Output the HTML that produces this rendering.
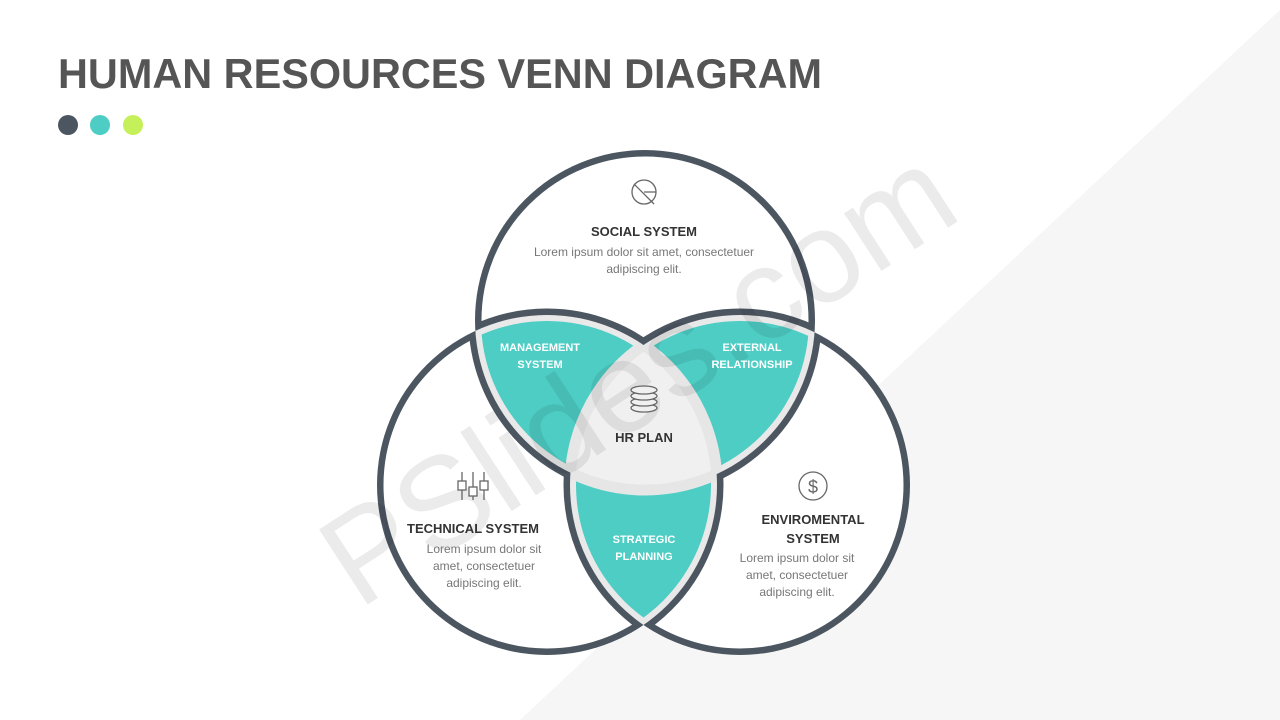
<!DOCTYPE html>
<html><head><meta charset="utf-8"><style>
html,body{margin:0;padding:0;background:#fff}
svg{display:block}
text{font-family:"Liberation Sans",sans-serif}
</style></head><body>
<svg width="1280" height="720" viewBox="0 0 1280 720" xmlns="http://www.w3.org/2000/svg">
<defs>
<clipPath id="a4"><circle cx="645" cy="320" r="170"/></clipPath>
<clipPath id="b4"><circle cx="547" cy="485" r="170"/></clipPath>
<clipPath id="c4"><circle cx="740" cy="485" r="170"/></clipPath>
<clipPath id="a10"><circle cx="645" cy="320" r="164"/></clipPath>
<clipPath id="b10"><circle cx="547" cy="485" r="164"/></clipPath>
<mask id="mA"><rect width="1280" height="720" fill="#000"/><circle cx="645" cy="320" r="170" fill="#fff"/><circle cx="547" cy="485" r="170" fill="#000"/><circle cx="740" cy="485" r="170" fill="#000"/></mask>
<mask id="mB"><rect width="1280" height="720" fill="#000"/><circle cx="547" cy="485" r="170" fill="#fff"/><circle cx="645" cy="320" r="170" fill="#000"/><circle cx="740" cy="485" r="170" fill="#000"/></mask>
<mask id="mC"><rect width="1280" height="720" fill="#000"/><circle cx="740" cy="485" r="170" fill="#fff"/><circle cx="645" cy="320" r="170" fill="#000"/><circle cx="547" cy="485" r="170" fill="#000"/></mask>
</defs>
<rect width="1280" height="720" fill="#fff"/>
<polygon points="1280,10 1280,720 520,720" fill="#f6f6f6"/>

<text x="58" y="88" font-size="42" font-weight="bold" fill="#555" textLength="764" lengthAdjust="spacingAndGlyphs">HUMAN RESOURCES VENN DIAGRAM</text>
<circle cx="68" cy="125" r="10" fill="#4c5661"/>
<circle cx="100" cy="125" r="10" fill="#4ecdc4"/>
<circle cx="133" cy="125" r="10" fill="#c5f05a"/>

<g fill="#fff">
<circle cx="645" cy="320" r="170"/>
<circle cx="547" cy="485" r="170"/>
<circle cx="740" cy="485" r="170"/>
</g>
<g fill="#e9e9e9">
<g clip-path="url(#a4)"><circle cx="547" cy="485" r="170"/><circle cx="740" cy="485" r="170"/></g>
<g clip-path="url(#b4)"><circle cx="740" cy="485" r="170"/></g>
</g>
<g fill="#4ecdc4">
<g clip-path="url(#a10)"><circle cx="547" cy="485" r="164"/><circle cx="740" cy="485" r="164"/></g>
<g clip-path="url(#b10)"><circle cx="740" cy="485" r="164"/></g>
</g>
<g clip-path="url(#a4)"><g clip-path="url(#b4)"><circle cx="740" cy="485" r="170" fill="#f0f0f0"/></g></g>
<g fill="none" stroke="#e6e6e6" stroke-width="11">
<g clip-path="url(#b4)"><g clip-path="url(#c4)"><circle cx="645" cy="320" r="170"/></g></g>
<g clip-path="url(#a4)"><g clip-path="url(#c4)"><circle cx="547" cy="485" r="170"/></g></g>
<g clip-path="url(#a4)"><g clip-path="url(#b4)"><circle cx="740" cy="485" r="170"/></g></g>
</g>
<g fill="none" stroke="#4c5661" stroke-width="13">
<g mask="url(#mA)"><circle cx="645" cy="320" r="170"/><circle cx="547" cy="485" r="170"/><circle cx="740" cy="485" r="170"/></g>
<g mask="url(#mB)"><circle cx="645" cy="320" r="170"/><circle cx="547" cy="485" r="170"/><circle cx="740" cy="485" r="170"/></g>
<g mask="url(#mC)"><circle cx="645" cy="320" r="170"/><circle cx="547" cy="485" r="170"/><circle cx="740" cy="485" r="170"/></g>
</g>

<text x="640" y="420" font-size="130" fill="#000" fill-opacity="0.08" text-anchor="middle" transform="rotate(-33 640 380)">PSlides.com</text>

<g fill="none" stroke="#666" stroke-width="1.3">
<circle cx="644" cy="192" r="12"/><path d="M644 192h12M634 184l20 20"/>
</g>
<text x="644" y="236" font-size="13" font-weight="bold" fill="#333" text-anchor="middle">SOCIAL SYSTEM</text>
<text x="644" y="256" font-size="12" fill="#777" text-anchor="middle">Lorem ipsum dolor sit amet, consectetuer</text>
<text x="644" y="273" font-size="12" fill="#777" text-anchor="middle">adipiscing elit.</text>

<g fill="none" stroke="#666" stroke-width="1.3">
<path d="M462 472v28M473 472v28M484 472v28"/>
<rect x="458" y="481" width="8" height="9" fill="#fff"/><rect x="469" y="487" width="8" height="9" fill="#fff"/><rect x="480" y="481" width="8" height="9" fill="#fff"/>
</g>
<text x="473" y="533" font-size="13" font-weight="bold" fill="#333" text-anchor="middle">TECHNICAL SYSTEM</text>
<text x="484" y="553" font-size="12" fill="#777" text-anchor="middle">Lorem ipsum dolor sit</text>
<text x="484" y="570" font-size="12" fill="#777" text-anchor="middle">amet, consectetuer</text>
<text x="484" y="587" font-size="12" fill="#777" text-anchor="middle">adipiscing elit.</text>

<circle cx="813" cy="486" r="14" fill="none" stroke="#666" stroke-width="1.3"/>
<text x="813" y="493" font-size="18" fill="#666" text-anchor="middle">$</text>
<text x="813" y="524" font-size="13" font-weight="bold" fill="#333" text-anchor="middle">ENVIROMENTAL</text>
<text x="813" y="543" font-size="13" font-weight="bold" fill="#333" text-anchor="middle">SYSTEM</text>
<text x="797" y="562" font-size="12" fill="#777" text-anchor="middle">Lorem ipsum dolor sit</text>
<text x="797" y="579" font-size="12" fill="#777" text-anchor="middle">amet, consectetuer</text>
<text x="797" y="596" font-size="12" fill="#777" text-anchor="middle">adipiscing elit.</text>

<g font-size="11" font-weight="bold" fill="#fff" text-anchor="middle">
<text x="540" y="351">MANAGEMENT</text><text x="540" y="368">SYSTEM</text>
<text x="752" y="351">EXTERNAL</text><text x="752" y="368">RELATIONSHIP</text>
<text x="644" y="543">STRATEGIC</text><text x="644" y="560">PLANNING</text>
</g>

<g fill="#f0f0f0" stroke="#666" stroke-width="1.3">
<ellipse cx="644" cy="408" rx="13" ry="4"/>
<ellipse cx="644" cy="402" rx="13" ry="4"/>
<ellipse cx="644" cy="396" rx="13" ry="4"/>
<ellipse cx="644" cy="390" rx="13" ry="4"/>
</g>
<text x="644" y="442" font-size="13" font-weight="bold" fill="#333" text-anchor="middle">HR PLAN</text>
</svg>
</body></html>
